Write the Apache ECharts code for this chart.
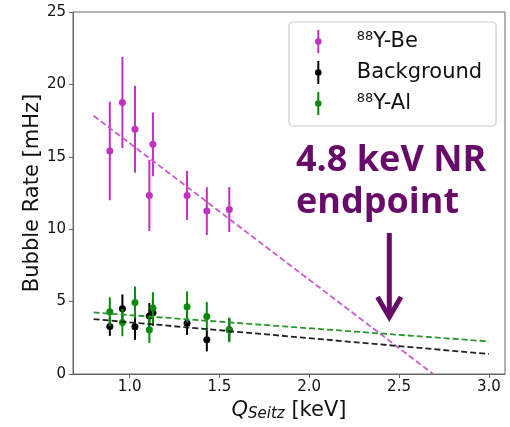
<!DOCTYPE html>
<html>
<head>
<meta charset="utf-8">
<script src="https://cdn.jsdelivr.net/npm/echarts@6/dist/echarts.min.js"></script>
<style>
html,body{margin:0;padding:0;background:#fff;}
#main{width:510px;height:427px;}
</style>
</head>
<body>
<div id="main"></div>
<script>
// ---- data (x = Q_Seitz [keV], y = bubble rate [mHz], err = 1-sigma) ----
var beX   = [0.89, 0.96, 1.03, 1.11, 1.13, 1.32, 1.43, 1.555];
var beY   = [15.4, 18.75, 16.9, 12.33, 15.86, 12.33, 11.25, 11.36];
var beErr = [3.4, 3.15, 3.0, 2.45, 2.2, 1.7, 1.65, 1.55];

var bgX   = [0.89, 0.96, 1.03, 1.11, 1.13, 1.32, 1.43, 1.555];
var bgY   = [3.28, 4.5, 3.26, 4.0, 4.23, 3.5, 2.36, 3.05];
var bgErr = [0.65, 1.0, 0.9, 0.9, 0.9, 0.8, 0.8, 0.8];

var alX   = [0.89, 0.96, 1.03, 1.11, 1.13, 1.32, 1.43, 1.555];
var alY   = [4.3, 3.56, 4.94, 3.05, 4.55, 4.64, 3.97, 3.05];
var alErr = [1.0, 0.95, 1.1, 0.9, 1.1, 1.07, 1.0, 0.85];

// fitted lines (end points)
var beFitX = [0.8, 2.69];
var beFitY = [17.83, 0];
var bgFitX = [0.8, 3.0];
var bgFitY = [3.79, 1.38];
var alFitX = [0.8, 3.0];
var alFitY = [4.25, 2.25];

var xTicks = [1.0, 1.5, 2.0, 2.5, 3.0];
var yTicks = [0, 5, 10, 15, 20, 25];

var seriesNames = ['88Y-Be', 'Background', '88Y-Al'];
var colBe = '#c231c2', colBg = '#000000', colAl = '#0a8a0a';

function pts(xs, ys) { return xs.map(function (x, i) { return [x, ys[i]]; }); }
function errPts(xs, ys, es) { return xs.map(function (x, i) { return [x, ys[i], es[i]]; }); }

function errRender(color) {
  return function (params, api) {
    var x = api.value(0), y = api.value(1), e = api.value(2);
    var p1 = api.coord([x, y - e]), p2 = api.coord([x, y + e]);
    return {
      type: 'line',
      shape: { x1: p1[0], y1: p1[1], x2: p2[0], y2: p2[1] },
      style: { stroke: color, lineWidth: 2 }
    };
  };
}

var FONT = 'DejaVu Sans';
var icon = 'path://M-1,-11.5 L1,-11.5 L1,-3.1 L-1,-3.1 Z M-1,3.1 L1,3.1 L1,11.5 L-1,11.5 Z M0,-3.3 A3.3,3.3 0 1,1 0,3.3 A3.3,3.3 0 1,1 0,-3.3 Z';

var chart = echarts.init(document.getElementById('main'), null, { renderer: 'canvas' });

var option = {
  animation: false,
  backgroundColor: '#ffffff',
  textStyle: { fontFamily: FONT },
  grid: { left: 73, right: 5, top: 12, bottom: 52.5, show: true, borderColor: '#666', borderWidth: 1, backgroundColor: 'transparent' },
  legend: {
    orient: 'vertical',
    left: 289, top: 22,
    padding: [8, 14, 11, 26],
    itemWidth: 7, itemHeight: 23, itemGap: 8,
    borderColor: '#cccccc', borderWidth: 1.2, borderRadius: 4,
    backgroundColor: '#fff',
    data: seriesNames.map(function (n) { return { name: n, icon: icon }; }),
    formatter: function (name) {
      if (name.indexOf('88') === 0) return '{sp|}{sup|88}{t|' + name.slice(2) + '}';
      return '{sp|}{t|' + name + '}';
    },
    textStyle: {
      fontFamily: FONT, fontSize: 21, color: '#111',
      rich: {
        sp: { width: 30 },
        sup: { fontFamily: FONT, fontSize: 13, color: '#111', verticalAlign: 'top', padding: [0, 0, 10, 0] },
        t: { fontFamily: FONT, fontSize: 21, color: '#111' }
      }
    }
  },
  xAxis: {
    type: 'value', min: 0.685, max: 3.09,
    splitLine: { show: false },
    axisLine: { show: true, onZero: false, lineStyle: { color: '#666', width: 1 } },
    axisTick: { show: true, length: 4, customValues: xTicks, lineStyle: { color: '#666' } },
    axisLabel: { customValues: xTicks, margin: 6, fontFamily: FONT, fontSize: 15, color: '#111',
      formatter: function (v) { return v.toFixed(1); } },
    name: '{q|Q}{s|Seitz}{n| [keV]}',
    nameLocation: 'middle', nameGap: 25, nameMoveOverlap: false,
    nameTextStyle: {
      rich: {
        q: { fontFamily: FONT, fontStyle: 'italic', fontSize: 21, color: '#111' },
        s: { fontFamily: FONT, fontStyle: 'italic', fontSize: 15, color: '#111', verticalAlign: 'bottom', padding: [8, 0, 0, 0] },
        n: { fontFamily: FONT, fontSize: 21, color: '#111' }
      }
    }
  },
  yAxis: {
    type: 'value', min: 0, max: 25, interval: 5,
    splitLine: { show: false },
    axisLine: { show: true, lineStyle: { color: '#666', width: 1 } },
    axisTick: { show: true, length: 4, lineStyle: { color: '#666' } },
    axisLabel: { margin: 7, fontFamily: FONT, fontSize: 15, color: '#111' },
    name: 'Bubble Rate [mHz]',
    nameLocation: 'middle', nameGap: 30, nameMoveOverlap: false,
    nameTextStyle: { fontFamily: FONT, fontSize: 21, color: '#111' }
  },
  series: [
    { name: '88Y-Be', type: 'custom', renderItem: errRender(colBe), data: errPts(beX, beY, beErr), encode: { x: 0, y: 1 }, z: 2, silent: true, itemStyle: { color: colBe } },
    { name: '88Y-Be', type: 'scatter', data: pts(beX, beY), symbolSize: 7, itemStyle: { color: colBe, opacity: 1 }, z: 3 },
    { name: 'Background', type: 'custom', renderItem: errRender(colBg), data: errPts(bgX, bgY, bgErr), encode: { x: 0, y: 1 }, z: 2, silent: true, itemStyle: { color: colBg } },
    { name: 'Background', type: 'scatter', data: pts(bgX, bgY), symbolSize: 7, itemStyle: { color: colBg, opacity: 1 }, z: 3 },
    { name: '88Y-Al', type: 'custom', renderItem: errRender(colAl), data: errPts(alX, alY, alErr), encode: { x: 0, y: 1 }, z: 4, silent: true, itemStyle: { color: colAl } },
    { name: '88Y-Al', type: 'scatter', data: pts(alX, alY), symbolSize: 7, itemStyle: { color: colAl, opacity: 1 }, z: 5 },
    { name: 'fitBe', type: 'line', data: pts(beFitX, beFitY), showSymbol: false, symbol: 'none', z: 6, lineStyle: { color: '#cc5acc', width: 1.8, type: [6, 3] } },
    { name: 'fitBg', type: 'line', data: pts(bgFitX, bgFitY), showSymbol: false, symbol: 'none', z: 6, lineStyle: { color: '#222', width: 1.8, type: [6, 3] } },
    { name: 'fitAl', type: 'line', data: pts(alFitX, alFitY), showSymbol: false, symbol: 'none', z: 6, lineStyle: { color: '#2a962a', width: 1.8, type: [6, 3] } }
  ],
  graphic: [
    { type: 'text', left: 296, top: 140, z: 100,
      style: { text: '4.8 keV NR\nendpoint', fontFamily: 'Open Sans', fontWeight: 'bold', fontSize: 36, lineHeight: 42, fill: '#680a69' } },
    { type: 'line', z: 100, shape: { x1: 389.3, y1: 233, x2: 389.3, y2: 316 }, style: { stroke: '#680a69', lineWidth: 5 } },
    { type: 'polyline', z: 100, shape: { points: [[377.5, 297], [389.3, 317], [401, 297]] }, style: { stroke: '#680a69', lineWidth: 5, fill: null, lineJoin: 'miter' } }
  ]
};
chart.setOption(option);
</script>
</body>
</html>
